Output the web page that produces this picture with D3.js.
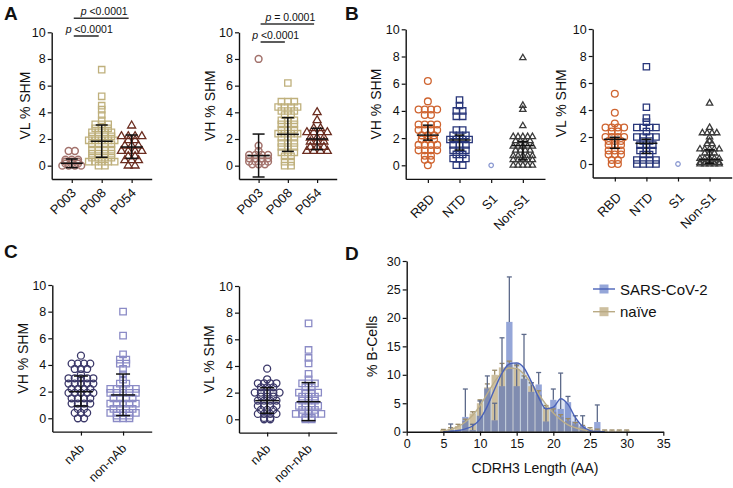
<!DOCTYPE html>
<html><head><meta charset="utf-8">
<script src="https://cdnjs.cloudflare.com/ajax/libs/d3/7.8.5/d3.min.js"></script>
<style>body{margin:0;background:#fff}svg{display:block}text{font-family:"Liberation Sans",Arial,sans-serif;fill:#111}</style>
</head><body><svg id="c" width="733" height="488"></svg>
<script>
// ---------- DATA ----------
const catsA = ["P003", "P008", "P054"];
const vlA_P003 = [1.1,1.1,0.45,0.45,0.45,0.3,0.3,0.3,0.15,0.15,0.15,0,0,0,0];
const vlA_P008 = [7.2,5.2,4.5,4.2,3.8,3.4,3.1,3.1,3.1,2.8,2.8,2.8,2.5,2.5,2.5,2.5,2.2,2.2,2.2,2.2,1.9,1.9,1.9,1.9,1.9,1.6,1.6,1.6,1.6,1.2,1.2,1.2,1.2,0.9,0.9,0.9,0.9,0.6,0.6,0.6,0.6,0.3,0.3,0.3,0.3,0.3,0,0];
const vlA_P054 = [3.0,2.2,2.2,2.2,2.2,1.9,1.9,1.5,1.5,1.5,1.1,1.1,1.1,1.1,0.7,0.7,0.4,0.4,0.4,0,0];
const vlA_mean = [0.18, 1.83, 1.40];
const vlA_lo = [-0.15, 0.63, 0.55];
const vlA_hi = [0.5, 3.05, 2.3];
const vhA_P003 = [8.0,1.5,1.1,0.8,0.8,0.8,0.8,0.55,0.55,0.55,0.55,0.3,0.3,0.3,0.3,0.1,0.1,0.1];
const vhA_P008 = [6.2,4.8,4.8,4.8,4.4,4.4,4.4,4.4,4.1,4.1,4.1,3.8,3.8,3.4,3.4,3.4,3.1,3.1,3.1,2.7,2.7,2.7,2.4,2.4,2.4,2.4,2.1,2.1,2.1,1.7,1.7,1.7,1.4,1.4,1.4,1.0,1.0,1.0,0.7,0.7,0.3,0.3,0,0];
const vhA_P054 = [4.0,3.4,2.8,2.8,2.5,2.5,2.5,2.5,2.1,2.1,2.1,1.8,1.8,1.8,1.4,1.4,1.4,1.1,1.1,1.1,1.1];
const vhA_mean = [0.75, 2.35, 2.0];
const vhA_lo = [-0.85, 1.07, 1.2];
const vhA_hi = [2.37, 3.6, 2.8];
const pLabelsA = ["<0.0001", "<0.0001"];
const pLabelsA2 = ["= 0.0001", "<0.0001"];

const catsB = ["RBD", "NTD", "S1", "Non-S1"];
const vhB_RBD = [6.2,4.7,4.1,4.1,4.1,4.1,3.7,3.7,3.0,3.0,3.0,3.0,2.6,2.6,2.6,2.6,2.2,2.2,2.2,1.9,1.9,1.9,1.5,1.5,1.5,1.5,1.1,1.1,1.1,1.1,0.7,0.7,0.4,0.4,0.0];
const vhB_NTD = [4.8,4.4,4.0,4.0,3.6,3.6,2.6,2.6,2.2,2.2,2.2,1.9,1.9,1.9,1.9,1.5,1.5,1.5,1.1,1.1,1.1,0.8,0.8,0.5,0.5,0.5,0.0,0.0];
const vhB_S1 = [0];
const vhB_NonS1 = [7.9,4.4,4.1,2.9,2.1,2.1,2.1,2.1,2.1,1.8,1.8,1.8,1.8,1.4,1.4,1.4,1.4,1.4,1.1,1.1,1.1,1.1,0.7,0.7,0.7,0.7,0.7,0.4,0.4,0.4,0.4,0.4,0,0,0,0,0];
const vhB_mean = [2.22, 1.86, null, 1.45];
const vhB_lo = [1.85, 1.12, null, 0.4];
const vhB_hi = [2.95, 2.22, null, 1.75];
const vlB_RBD = [5.2,3.8,3.0,2.7,2.7,2.7,2.7,2.4,2.4,2.0,2.0,2.0,2.0,1.7,1.7,1.7,1.4,1.4,1.4,1.0,1.0,1.0,0.7,0.7,0.7,0.3,0.3,0,0];
const vlB_NTD = [7.2,4.2,3.4,3.1,2.7,2.7,2.7,2.7,2.4,2.0,2.0,2.0,2.0,1.7,1.7,1.4,1.4,1.4,1.0,1.0,1.0,0.7,0.7,0.3,0.3,0.3,0.3,0,0,0,0];
const vlB_S1 = [0];
const vlB_NonS1 = [4.5,2.7,2.3,2.3,2.3,2.3,2.0,1.7,1.5,1.5,1.1,1.1,1.1,1.1,1.1,0.8,0.8,0.8,0.4,0.4,0.4,0.4,0.4,0.1,0.1,0.1,0.1,0.1,0,0,0,0,0];
const vlB_mean = [1.83, 1.53, null, 0.35];
const vlB_lo = [1.16, 0.79, null, 0.05];
const vlB_hi = [1.98, 1.83, null, 1.05];

const catsC = ["nAb", "non-nAb"];
const vhC_nAb = [4.7,4.1,4.1,4.1,4.1,3.7,3.7,3.7,3.3,3.0,3.0,3.0,3.0,3.0,2.6,2.6,2.6,2.6,2.6,2.2,2.2,2.2,2.2,1.9,1.9,1.9,1.9,1.9,1.5,1.5,1.5,1.5,1.1,1.1,1.1,1.1,0.7,0.7,0.4,0.4,0.4,0,0];
const vhC_non = [8.0,6.2,4.8,4.4,4.4,4.1,4.1,3.7,3.3,2.9,2.6,2.6,2.2,2.2,2.2,2.2,2.2,1.9,1.9,1.9,1.9,1.9,1.5,1.5,1.5,1.5,1.1,1.1,1.1,1.1,1.1,0.7,0.7,0.7,0.7,0.4,0.4,0.4,0.4,0.4,0.2,0.2,0.2,0,0,0];
const vhC_mean = [2.0, 1.75];
const vhC_lo = [0.92, 0.2];
const vhC_hi = [3.17, 3.32];
const vlC_nAb = [3.8,3.0,2.7,2.7,2.7,2.7,2.4,2.4,2.4,2.0,2.0,2.0,2.0,2.0,1.7,1.7,1.7,1.4,1.4,1.4,1.4,1.0,1.0,1.0,1.0,0.7,0.7,0.7,0.4,0.4,0.4,0.4,0.1,0.1,0,0];
const vlC_non = [7.2,5.2,4.6,4.2,3.4,3.0,2.7,2.7,2.7,2.4,2.4,2.0,2.0,2.0,2.0,1.7,1.7,1.7,1.4,1.4,1.4,1.0,1.0,1.0,1.0,0.7,0.7,0.7,0.4,0.4,0.4,0.4,0.4,0.1,0.1,0,0];
const vlC_mean = [1.4, 1.32];
const vlC_lo = [0.45, -0.1];
const vlC_hi = [2.37, 2.75];

const shmTicks = [0, 2, 4, 6, 8, 10];

// Panel D
const cdrLen = [5,6,7,8,9,10,11,12,13,14,15,16,17,18,19,20,21,22,23,24,25,26,27,28,29,30];
const sarsMean = [0,0.3,0.3,2.6,0.3,2.8,7.6,2.0,8.0,19.3,8.0,9.3,7.0,8.3,1.8,5.6,4.0,5.2,1.8,1.0,0.2,1.7,0,0,0,0];
const sarsHi   = [0,1.35,0.3,7.5,1.3,5.4,9.8,5.0,16.5,27.2,11.9,17.1,8.6,10.4,4.1,7.5,10.3,6.2,2.8,2.8,0.2,4.7,0,0,0,0];
const naiveMean = [0.3,0.5,1.0,1.9,3.2,5.0,7.8,10.0,11.3,11.8,11.0,9.3,8.0,6.5,4.0,3.5,2.6,1.9,1.3,0.8,0.5,0.3,0.2,0.2,0.2,0.2];
const naiveHi   = [0.4,0.7,1.3,2.2,3.5,5.6,8.4,10.8,12.0,12.4,11.6,9.8,8.6,7.2,4.6,4.0,3.0,2.3,1.6,1.1,0.7,0.45,0.3,0.3,0.3,0.3];
const fitX = [5,6,7,8,9,10,11,12,13,14,15,16,17,18,19,20,21,22,23,24,25,26,27];
const sarsFit  = [0,0.05,0.2,0.5,1.0,2.2,4.5,7.5,10.3,11.9,12.1,11.2,8.8,6.0,4.0,4.3,5.8,4.8,2.5,0.9,0.2,0.02,0];
const naiveFit = [0.15,0.4,0.9,1.7,2.9,4.6,6.7,8.8,10.4,11.2,11.1,10.1,8.5,6.6,4.8,3.3,2.1,1.2,0.7,0.35,0.15,0.05,0];
const dXTicks = [0,5,10,15,20,25,30,35];
const dYTicks = [0,5,10,15,20,25,30];
const legendNames = ["SARS-CoV-2", "naïve"];

// ---------- DRAWING ----------
const svg = d3.select("#c");
const FONT = '"Liberation Sans", Arial, sans-serif';

function rows(vals, y, cx, s) {
  const out = [];
  d3.group(vals, v => v).forEach((arr, v) => {
    const n = arr.length;
    arr.forEach((_, j) => out.push({x: cx + (j - (n - 1) / 2) * s, y: y(v)}));
  });
  return out;
}

function styleAxis(g) {
  g.selectAll("path.domain").attr("stroke", "#111").attr("stroke-width", 1.4);
  g.selectAll(".tick line").attr("stroke", "#111").attr("stroke-width", 1.2);
  g.selectAll("text").attr("font-family", FONT).attr("fill", "#111");
}

function scatterPanel(o) {
  const x = d3.scalePoint().domain(o.cats).range([o.left, o.right]).padding(o.pad);
  const y = d3.scaleLinear().domain([-1, 10]).range([o.bottom, o.top]);
  const g = svg.append("g");
  const ya = g.append("g").attr("transform", `translate(${o.left},0)`)
    .call(d3.axisLeft(y).tickValues(shmTicks).tickSize(4).tickSizeOuter(0).tickPadding(2));
  ya.selectAll("text").attr("font-size", 12.5);
  styleAxis(ya);
  const xa = g.append("g").attr("transform", `translate(0,${o.bottom})`)
    .call(d3.axisBottom(x).tickSize(4).tickSizeOuter(0));
  xa.selectAll("text").remove();
  styleAxis(xa);
  g.selectAll("text.cat").data(o.cats).join("text").attr("class", "cat")
    .attr("transform", c => `translate(${x(c) + o.lab[0]},${o.bottom + o.lab[1]}) rotate(-45)`)
    .attr("text-anchor", "end").attr("dy", "0.35em")
    .attr("font-size", o.labSize || 13).attr("font-family", FONT).text(c => c);
  g.append("text").attr("transform", `translate(${o.ylabX},${(o.top + o.bottom) / 2}) rotate(-90)`)
    .attr("text-anchor", "middle").attr("dominant-baseline", "central")
    .attr("font-size", 14).attr("font-family", FONT).text(o.ylabel);
  o.groups.forEach((vals, i) => {
    const st = o.styles[i];
    const pts = rows(vals, y, x(o.cats[i]), st.s);
    const sym = d3.symbol().type(st.shape).size(st.size);
    g.append("g").selectAll("path").data(pts).join("path")
      .attr("transform", p => `translate(${p.x},${p.y})`)
      .attr("d", sym()).attr("fill", "none").attr("stroke", st.color).attr("stroke-width", st.sw || 1.3);
  });
  o.cats.forEach((c, i) => {
    if (o.mean[i] == null) return;
    const cx = x(c), eg = g.append("g").attr("stroke", "#111").attr("stroke-width", 1.5);
    eg.append("line").attr("x1", cx).attr("x2", cx).attr("y1", y(o.lo[i])).attr("y2", y(o.hi[i]));
    eg.append("line").attr("x1", cx - o.mw).attr("x2", cx + o.mw).attr("y1", y(o.mean[i])).attr("y2", y(o.mean[i]));
    [o.lo[i], o.hi[i]].forEach(v => eg.append("line").attr("x1", cx - o.cw).attr("x2", cx + o.cw).attr("y1", y(v)).attr("y2", y(v)));
  });
  if (o.sig) {
    o.sig.forEach(s => {
      const x1 = x(o.cats[s.a]) + 2, x2 = x(o.cats[s.b]) - 3;
      g.append("line").attr("x1", x1).attr("x2", x2).attr("y1", s.y).attr("y2", s.y).attr("stroke", "#333").attr("stroke-width", 1.6);
      const t = g.append("text").attr("x", (x1 + x2) / 2 + 3).attr("y", s.y - 3).attr("text-anchor", "middle")
        .attr("font-size", 10.5).attr("font-family", FONT);
      t.append("tspan").attr("font-style", "italic").text("p");
      t.append("tspan").text(" " + s.label);
    });
  }
}

const circ = d3.symbolCircle, sq = d3.symbolSquare, tri = d3.symbolTriangle;
const stA = [
  {shape: circ, size: 36, color: "#a3736d", s: 6.3, sw: 1.5},
  {shape: sq, size: 40, color: "#bfb07c", s: 6.5},
  {shape: tri, size: 28, color: "#6b2d20", s: 6.8}
];
scatterPanel({left: 51.7, right: 151.7, top: 32.3, bottom: 179, pad: 0.67, cats: catsA, lab: [2, 11.5],
  groups: [vlA_P003, vlA_P008, vlA_P054], styles: stA, mean: vlA_mean, lo: vlA_lo, hi: vlA_hi,
  ylabel: "VL % SHM", ylabX: 25, mw: 11, cw: 6,
  sig: [{a: 0, b: 2, y: 18.3, label: pLabelsA[0]}, {a: 0, b: 1, y: 36, label: pLabelsA[1]}]});
scatterPanel({left: 239, right: 336.7, top: 32.3, bottom: 179, pad: 0.67, cats: catsA, lab: [2, 11.5],
  groups: [vhA_P003, vhA_P008, vhA_P054], styles: stA, mean: vhA_mean, lo: vhA_lo, hi: vhA_hi,
  ylabel: "VH % SHM", ylabX: 210, mw: 11, cw: 6,
  sig: [{a: 0, b: 2, y: 24, label: pLabelsA2[0]}, {a: 0, b: 1, y: 42, label: pLabelsA2[1]}]});

const stB = [
  {shape: circ, size: 36, color: "#cf6430", s: 6.2},
  {shape: sq, size: 40, color: "#28367a", s: 6.4},
  {shape: circ, size: 16, color: "#8d9bd2", s: 4},
  {shape: tri, size: 17, color: "#3a3a3a", s: 4.8}
];
scatterPanel({left: 405.7, right: 545, top: 29.3, bottom: 178.9, pad: 0.7, cats: catsB, lab: [4, 17.5],
  groups: [vhB_RBD, vhB_NTD, vhB_S1, vhB_NonS1], styles: stB, mean: vhB_mean, lo: vhB_lo, hi: vhB_hi,
  ylabel: "VH % SHM", ylabX: 376, mw: 11, cw: 5});
scatterPanel({left: 592.7, right: 731.7, top: 29, bottom: 177.5, pad: 0.7, cats: catsB, lab: [4, 17.5],
  groups: [vlB_RBD, vlB_NTD, vlB_S1, vlB_NonS1], styles: stB, mean: vlB_mean, lo: vlB_lo, hi: vlB_hi,
  ylabel: "VL % SHM", ylabX: 561, mw: 11, cw: 5});

const stC = [
  {shape: circ, size: 38, color: "#3b3869", s: 6.2},
  {shape: sq, size: 42, color: "#8b8bc6", s: 6.4}
];
scatterPanel({left: 52.3, right: 151.7, top: 285, bottom: 431.6, pad: 0.68, cats: catsC, lab: [1, 14.5], labSize: 12.5,
  groups: [vhC_nAb, vhC_non], styles: stC, mean: vhC_mean, lo: vhC_lo, hi: vhC_hi,
  ylabel: "VH % SHM", ylabX: 23, mw: 12, cw: 7});
scatterPanel({left: 239, right: 336.7, top: 286, bottom: 432.6, pad: 0.68, cats: catsC, lab: [1, 14], labSize: 12.5,
  groups: [vlC_nAb, vlC_non], styles: stC, mean: vlC_mean, lo: vlC_lo, hi: vlC_hi,
  ylabel: "VL % SHM", ylabX: 209, mw: 12, cw: 7});

[["A", 4, 20], ["B", 345, 20], ["C", 4, 258], ["D", 345, 260]].forEach(([t, lx, ly]) =>
  svg.append("text").attr("x", lx).attr("y", ly).attr("font-size", 19).attr("font-weight", "bold")
    .attr("font-family", FONT).text(t));

// ---------- Panel D ----------
(function () {
  const x = d3.scaleLinear().domain([0, 35]).range([406.7, 663.3]);
  const y = d3.scaleLinear().domain([0, 30]).range([431.7, 261]);
  const g = svg.append("g");
  const bw = x(1) - x(0);
  const blue = "#4b68bd", tan = "#cdbf9f";
  g.append("path").datum(fitX.map((v, i) => [v, naiveFit[i]]))
    .attr("d", d3.area().x(d => x(d[0])).y0(y(0)).y1(d => y(d[1])).curve(d3.curveMonotoneX))
    .attr("fill", "#d6e5ec").attr("opacity", 0.85);
  g.append("path").datum(fitX.map((v, i) => [v, sarsFit[i]]))
    .attr("d", d3.area().x(d => x(d[0])).y0(y(0)).y1(d => y(d[1])).curve(d3.curveMonotoneX))
    .attr("fill", "#b9c8e6").attr("opacity", 0.45);
  g.append("g").selectAll("rect").data(cdrLen).join("rect")
    .attr("x", d => x(d) - bw / 2 + 0.5).attr("width", bw - 1)
    .attr("y", (d, i) => y(naiveMean[i])).attr("height", (d, i) => y(0) - y(naiveMean[i]))
    .attr("fill", tan);
  g.append("g").selectAll("rect").data(cdrLen).join("rect")
    .attr("x", d => x(d) - bw / 2 + 0.5).attr("width", bw - 1)
    .attr("y", (d, i) => y(sarsMean[i])).attr("height", (d, i) => y(0) - y(sarsMean[i]))
    .attr("fill", blue).attr("fill-opacity", 0.59);
  function errs(means, his, col) {
    const eg = g.append("g").attr("stroke", col).attr("stroke-width", 1.3);
    cdrLen.forEach((d, i) => {
      if (his[i] - means[i] < 0.05) return;
      eg.append("line").attr("x1", x(d)).attr("x2", x(d)).attr("y1", y(means[i])).attr("y2", y(his[i]));
      eg.append("line").attr("x1", x(d) - 2.5).attr("x2", x(d) + 2.5).attr("y1", y(his[i])).attr("y2", y(his[i]));
    });
  }
  errs(naiveMean, naiveHi, "#9a8a66");
  errs(sarsMean, sarsHi, "#5d6a8a");
  g.append("path").datum(fitX.map((v, i) => [v, naiveFit[i]]))
    .attr("d", d3.line().x(d => x(d[0])).y(d => y(d[1])).curve(d3.curveMonotoneX))
    .attr("fill", "none").attr("stroke", "#bcae88").attr("stroke-width", 1.4);
  g.append("path").datum(fitX.map((v, i) => [v, sarsFit[i]]))
    .attr("d", d3.line().x(d => x(d[0])).y(d => y(d[1])).curve(d3.curveMonotoneX))
    .attr("fill", "none").attr("stroke", "#4a62b8").attr("stroke-width", 1.4);
  const xa = g.append("g").attr("transform", `translate(0,${y(0)})`)
    .call(d3.axisBottom(x).tickValues(dXTicks).tickSize(4).tickSizeOuter(0).tickPadding(3));
  xa.selectAll("text").attr("font-size", 12.5);
  styleAxis(xa);
  const ya = g.append("g").attr("transform", `translate(${x(0)},0)`)
    .call(d3.axisLeft(y).tickValues(dYTicks).tickSize(4).tickSizeOuter(0).tickPadding(2));
  ya.selectAll("text").attr("font-size", 12.5);
  styleAxis(ya);
  g.append("text").attr("x", (x(0) + x(35)) / 2).attr("y", 472.5).attr("text-anchor", "middle")
    .attr("font-size", 14).attr("font-family", FONT).text("CDRH3 Length (AA)");
  g.append("text").attr("transform", `translate(372,${(y(0) + y(30)) / 2}) rotate(-90)`)
    .attr("text-anchor", "middle").attr("dominant-baseline", "central")
    .attr("font-size", 14).attr("font-family", FONT).text("% B-Cells");
  const lg = [{fill: blue, op: 0.59, line: "#4a62b8"}, {fill: tan, op: 1, line: "#b9aa84"}];
  legendNames.forEach((nm, i) => {
    const ly = 289 + i * 22.7;
    g.append("rect").attr("x", 599.5).attr("y", ly - 4.5).attr("width", 9).attr("height", 9)
      .attr("fill", lg[i].fill).attr("fill-opacity", lg[i].op);
    g.append("line").attr("x1", 593).attr("x2", 615).attr("y1", ly).attr("y2", ly)
      .attr("stroke", lg[i].line).attr("stroke-width", 1.4);
    g.append("text").attr("x", 620).attr("y", ly).attr("dominant-baseline", "central")
      .attr("font-size", 15).attr("font-family", FONT).text(nm);
  });
})();
</script></body></html>
